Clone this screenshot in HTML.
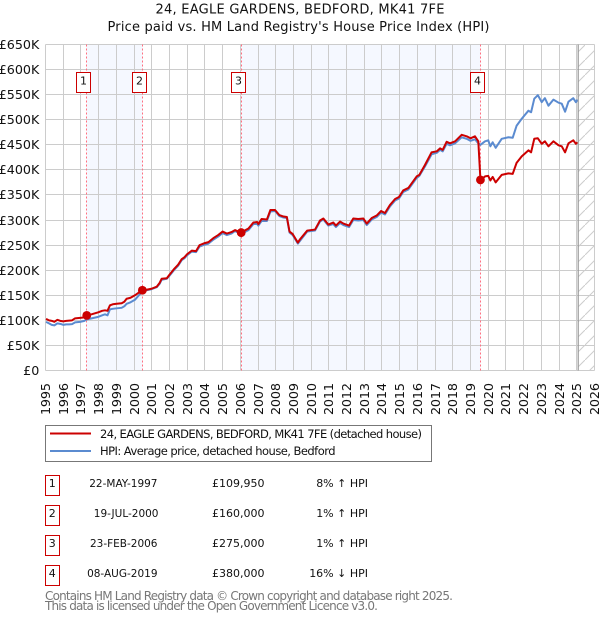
<!DOCTYPE html>
<html>
<head>
<meta charset="utf-8">
<title>24, Eagle Gardens, Bedford - price paid vs HPI</title>
<style>
html,body{margin:0;padding:0;background:#fff;}
svg{display:block;}
text{font-family:"DejaVu Sans","Liberation Sans",sans-serif;fill:#111;}
</style>
</head>
<body>
<svg id="chart" xmlns="http://www.w3.org/2000/svg" width="600" height="620" viewBox="0 0 600 620">
  <defs>
    <pattern id="hatch" patternUnits="userSpaceOnUse" width="15" height="15">
      <line x1="0" y1="15" x2="15" y2="0" stroke="#cccccc" stroke-width="1"/>
    </pattern>
  </defs>
  <g id="bands"></g>
  <g id="grid"></g>
  <g id="saleLines"></g>
  <g id="series"></g>
  <g id="axes"></g>

  <text x="300" y="13.500" text-anchor="middle" font-size="13" textLength="289">24, EAGLE GARDENS, BEDFORD, MK41 7FE</text>
  <text x="298.500" y="31" text-anchor="middle" font-size="13" textLength="382">Price paid vs. HM Land Registry's House Price Index (HPI)</text>

  <g>
    <rect x="45.5" y="425.5" width="386" height="36" fill="#fff" stroke="#777" stroke-width="1"/>
    <line x1="50" x2="91" y1="433.5" y2="433.5" stroke="#cc0000" stroke-width="2"/>
    <text x="100" y="438" font-size="11.5" textLength="322">24, EAGLE GARDENS, BEDFORD, MK41 7FE (detached house)</text>
    <line x1="50" x2="91" y1="451" y2="451" stroke="#5b8bd0" stroke-width="2"/>
    <text x="100" y="455" font-size="11.5" textLength="235.500">HPI: Average price, detached house, Bedford</text>
  </g>

  <g id="table"></g>

  <text x="45" y="600" font-size="12" textLength="408" style="fill:#777">Contains HM Land Registry data © Crown copyright and database right 2025.</text>
  <text x="45" y="610" font-size="12" textLength="333" style="fill:#777">This data is licensed under the Open Government Licence v3.0.</text>
</svg>
<script>
var NS = 'http://www.w3.org/2000/svg';

/* chart data */
var yearTicks = [1995,1996,1997,1998,1999,2000,2001,2002,2003,2004,2005,2006,2007,2008,2009,2010,2011,2012,2013,2014,2015,2016,2017,2018,2019,2020,2021,2022,2023,2024,2025,2026];
var priceTicks = [0,50,100,150,200,250,300,350,400,450,500,550,600,650];
var priceTickLabels = ['£0','£50K','£100K','£150K','£200K','£250K','£300K','£350K','£400K','£450K','£500K','£550K','£600K','£650K'];

var seriesDates = [1995.03,1995.2,1995.35,1995.5,1995.67,1995.83,1996.0,1996.17,1996.33,1996.5,1996.67,1996.95,1997.2,1997.33,1997.6,1997.98,1998.2,1998.36,1998.5,1998.64,1998.8,1999.02,1999.3,1999.45,1999.58,1999.8,2000.05,2000.25,2000.47,2000.7,2000.98,2001.28,2001.45,2001.56,2001.85,2002.0,2002.25,2002.49,2002.69,2002.85,2003.0,2003.26,2003.5,2003.7,2003.99,2004.2,2004.48,2004.75,2005.0,2005.24,2005.5,2005.7,2005.95,2006.02,2006.3,2006.46,2006.74,2006.95,2007.02,2007.2,2007.5,2007.7,2007.96,2008.2,2008.44,2008.63,2008.78,2008.96,2009.25,2009.38,2009.78,2010.22,2010.5,2010.69,2010.97,2011.25,2011.4,2011.63,2011.82,2012.14,2012.38,2012.66,2012.95,2013.14,2013.42,2013.7,2013.95,2014.17,2014.45,2014.74,2014.96,2015.2,2015.49,2015.96,2016.11,2016.43,2016.8,2017.09,2017.28,2017.43,2017.65,2017.84,2018.13,2018.5,2018.78,2019.0,2019.25,2019.44,2019.56,2019.82,2020.0,2020.12,2020.25,2020.42,2020.76,2021.14,2021.38,2021.6,2021.89,2022.27,2022.42,2022.6,2022.8,2023.02,2023.2,2023.4,2023.68,2023.97,2024.15,2024.34,2024.53,2024.8,2024.95,2025.04];
var pricePaidValues = [103,100,99,97,101,99,98,99,99.500,100,104,105,106,110,112,116,119,120,119,130,132,133,134,137,143,145,150,155,160,161,163,167,175,183,184,191,202,211,222,226,232,239,238,250,254,256,264,270,277,273,276,280,276,275,280,283,295,296,292,302,301,320,320,310,307,306,277,272,255,262,279,281,299,303,291,295,289,297,293,289,303,302,303,293,304,309,318,314,330,342,346,359,364,387,390,410,435,437,443,440,456,453,457,470,467,463,467,457,380,387,388,379,386,375,390,393,392,414,427,439,435,462,463,452,457,447,457,449,447,435,453,459,452,455];
var hpiValues = [97,94,91,90,94,93,91,92,92,92.500,96,97,99,102,104,107,110,112,110,122,123,124,125,128,133,136,141,149,158,160,162,166,173,181,183,189,200,209,220,224,230,237,236,247,251,253,261,267,274,270,273,278,274,272,277,280,292,292,289,298,298,317,318,308,305,304,275,270,253,259,277,279,297,301,289,292,286,294,290,286,300,299,300,290,301,306,315,311,327,339,343,356,361,384,388,407,431,434,440,437,452,449,453,465,462,458,461,453,450,457,459,447,455,444,462,465,464,488,502,518,515,542,549,535,543,528,540,534,532,516,536,543,535,540];

var saleDates = [1997.33,2000.47,2006.05,2019.56];
var salePrices = [109.950,160,275,380];
var saleNumbers = ['1','2','3','4'];
var saleDateLabels = ['22-MAY-1997','19-JUL-2000','23-FEB-2006','08-AUG-2019'];
var salePriceLabels = ['£109,950','£160,000','£275,000','£380,000'];
var saleHpiLabels = ['8% ↑ HPI','1% ↑ HPI','1% ↑ HPI','16% ↓ HPI'];
var lastDataDate = 2025.08;

/* axis functions */
function xScale(year){ return 45.5 + (year - 1995) * (594.5 - 45.5) / 31; }
function yScale(k){ return 370.5 - k * (370.5 - 44.5) / 650; }
function add(parent, tag, attrs, text){
  var el = document.createElementNS(NS, tag);
  for (var k in attrs) el.setAttribute(k, attrs[k]);
  if (text !== undefined) el.textContent = text;
  parent.appendChild(el);
  return el;
}
function rnd(v){ return Math.floor(v) + 0.5; }

var TOP = yScale(650), BOTTOM = yScale(0), LEFT = xScale(1995), RIGHT = xScale(2026);
var bands = document.getElementById('bands');
var grid = document.getElementById('grid');
var saleLines = document.getElementById('saleLines');
var series = document.getElementById('series');
var axes = document.getElementById('axes');
var table = document.getElementById('table');

/* shaded sale periods */
for (var b = 0; b + 1 < saleDates.length; b += 2) {
  var band = add(bands, 'rect', {x: rnd(xScale(saleDates[b])), y: TOP, width: rnd(xScale(saleDates[b+1])) - rnd(xScale(saleDates[b])), height: BOTTOM - TOP, fill: '#f5f8ff'});
  
  
}
/* hatch beyond last data */
var hatch = add(bands, 'rect', {x: xScale(lastDataDate), y: TOP, width: RIGHT - xScale(lastDataDate), height: BOTTOM - TOP, fill: 'url(#hatch)'});



/* grid */
yearTicks.forEach(function(y){
  var x = rnd(xScale(y));
  var v = add(grid, 'line', {x1: x, x2: x, y1: TOP, y2: BOTTOM, stroke: '#cccccc', 'stroke-width': 1});
  
  
  var t = add(axes, 'text', {transform: 'translate(' + (x + 4.500) + ',415) rotate(-90)', 'font-size': 12.800, textLength: 32}, String(y));
  
  
});
priceTicks.forEach(function(k, i){
  var y = rnd(yScale(k));
  var h = add(grid, 'line', {x1: LEFT, x2: RIGHT, y1: y, y2: y, stroke: '#cccccc', 'stroke-width': 1});
  
  
  var t = add(axes, 'text', {x: 39.300, y: y + 4.500, 'text-anchor': 'end', 'font-size': 12.700}, priceTickLabels[i]);
  
  
});

/* sale date lines */
saleDates.forEach(function(d, i){
  var x = rnd(xScale(d));
  var l = add(saleLines, 'line', {x1: x, x2: x, y1: TOP, y2: BOTTOM, stroke: '#ff7080', 'stroke-width': 1, 'stroke-dasharray': '2 2'});
  
  
});

/* series */
function pathOf(dates, values){
  return dates.map(function(d, i){ return (i ? 'L' : 'M') + xScale(d).toFixed(2) + ' ' + yScale(values[i]).toFixed(2); }).join(' ');
}
var hpiLine = add(series, 'path', {d: pathOf(seriesDates, hpiValues), fill: 'none', stroke: '#5b8bd0', 'stroke-width': 2, 'stroke-linejoin': 'round'});


var paidLine = add(series, 'path', {d: pathOf(seriesDates, pricePaidValues), fill: 'none', stroke: '#cc0000', 'stroke-width': 2, 'stroke-linejoin': 'round'});



saleDates.forEach(function(d, i){
  var m = add(series, 'circle', {cx: xScale(d), cy: yScale(salePrices[i]), r: 4.400, fill: '#cc0000'});
  
  
  var bx = Math.floor(xScale(d)) - 9.5;
  var r = add(series, 'rect', {x: bx, y: 72.5, width: 14, height: 20, fill: '#fff', stroke: '#cc0000', 'stroke-width': 1});
  
  
  var t = add(series, 'text', {x: bx + 7, y: 84.500, 'text-anchor': 'middle', 'font-size': 11}, saleNumbers[i]);
  
  
});

/* line at the end of the data, over the hatch edge */
var edge = add(axes, 'line', {x1: xScale(lastDataDate), x2: xScale(lastDataDate), y1: TOP, y2: BOTTOM, stroke: '#999999', 'stroke-width': 1.200});



/* table of sales */
saleNumbers.forEach(function(n, i){
  var top = 475.5 + i * 30;
  var box = add(table, 'rect', {x: 45.5, y: top, width: 14, height: 20, fill: '#fff', stroke: '#cc0000', 'stroke-width': 1});
  
  
  var num = add(table, 'text', {x: 52.300, y: top + 11.500, 'text-anchor': 'middle', 'font-size': 11}, n);
  
  
  var dt = add(table, 'text', {x: i === 1 ? 158.500 : 157.500, y: top + 11.500, 'text-anchor': 'end', 'font-size': 10.500}, saleDateLabels[i]);
  
  
  var pr = add(table, 'text', {x: 264.500, y: top + 11.500, 'text-anchor': 'end', 'font-size': 11}, salePriceLabels[i]);
  
  
  var hp = add(table, 'text', {x: 368, y: top + 11.500, 'text-anchor': 'end', 'font-size': 11}, saleHpiLabels[i]);
  
  
});
</script>
</body>
</html>
